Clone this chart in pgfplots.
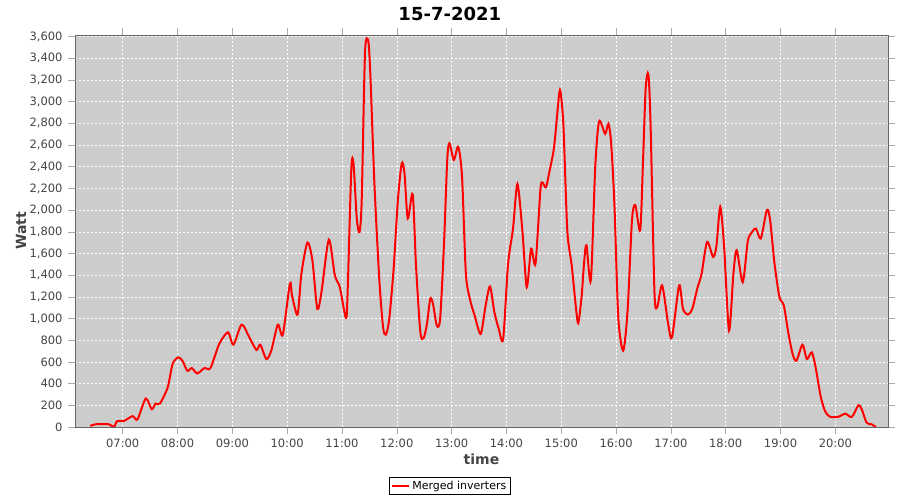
\documentclass[border=0pt]{standalone}
\usepackage{pgfplots}
\pgfplotsset{compat=1.18}
\usepackage{fontspec}
\setmainfont{DejaVu Sans}
\definecolor{plotbg}{HTML}{CCCCCC}
\definecolor{framec}{HTML}{666666}
\definecolor{axisc}{HTML}{AAAAAA}
\definecolor{labc}{HTML}{444444}
\begin{document}
\begin{tikzpicture}
\path[use as bounding box] (-75pt,-73pt) rectangle (825pt,427pt);
\begin{axis}[
  scale only axis,
  width=813pt, height=392pt,
  xmin=6.13, xmax=20.96,
  ymin=0, ymax=3615,
  axis background/.style={fill=plotbg},
  axis line style={framec, line width=0.8pt},
  xtick={7,8,...,20},
  xticklabels={07:00,08:00,09:00,10:00,11:00,12:00,13:00,14:00,15:00,16:00,17:00,18:00,19:00,20:00},
  ytick={0,200,...,3600},
  /pgf/number format/assume math mode=true,
  /pgf/number format/1000 sep={,},
  tick align=outside,
  major tick length=7pt,
  tick style={axisc, line width=0.6pt},
  grid=major,
  major grid style={white, dash pattern=on 2pt off 2pt, line width=0.5pt},
  ticklabel style={font=\fontsize{11.5}{13}\selectfont, text=labc},
  xticklabel style={yshift=-1pt},
  yticklabel style={xshift=-2pt},
  xlabel={time},
  ylabel={Watt},
  xlabel style={font=\fontsize{14}{16}\selectfont\bfseries, text=labc, at={(axis description cs:0.5,-0.0816)}, anchor=center},
  ylabel style={font=\fontsize{14}{16}\selectfont\bfseries, text=labc, at={(axis description cs:-0.0664,0.5)}, anchor=center},
  title={15-7-2021},
  title style={font=\fontsize{18}{20}\selectfont\bfseries, at={(axis description cs:0.461,1)}, anchor=center, yshift=15pt},
  legend style={at={(axis description cs:0.461,-0.1276)}, anchor=north, draw=black, line width=0.6pt, font=\fontsize{11}{13}\selectfont, inner sep=1.5pt, row sep=0pt},
  legend cell align=left,
  legend image post style={line width=2pt},
  clip=true,
]
\addplot[red, line width=2pt, smooth, tension=0.45] coordinates {
(6.41,9) (6.50,25) (6.75,25) (6.84,0) (6.90,55) (7.02,55) (7.18,100) (7.27,70)
(7.42,262) (7.53,164) (7.60,216) (7.68,216) (7.82,364) (7.91,580) (8.01,642)
(8.09,611) (8.18,518) (8.26,543) (8.36,494) (8.49,543) (8.60,543) (8.76,765)
(8.92,873) (9.02,759) (9.17,944) (9.31,827) (9.44,710) (9.51,759) (9.62,627)
(9.71,704) (9.83,944) (9.92,852) (10.05,1321) (10.09,1210) (10.19,1037)
(10.26,1414) (10.37,1701) (10.46,1537) (10.55,1090) (10.63,1259) (10.76,1728)
(10.87,1398) (10.96,1290) (11.07,1006) (11.10,1198) (11.17,2370) (11.21,2432)
(11.27,1923) (11.32,1799) (11.36,2093) (11.42,3451) (11.48,3559) (11.52,3219)
(11.59,2262) (11.68,1367) (11.75,920) (11.80,852) (11.86,988) (11.94,1444)
(12.02,2093) (12.09,2432) (12.14,2340) (12.20,1923) (12.29,2145) (12.35,1491)
(12.43,873) (12.49,821) (12.55,951) (12.61,1182) (12.66,1136) (12.73,935)
(12.79,997) (12.86,1676) (12.92,2463) (12.96,2617) (13.04,2463) (13.12,2586)
(13.19,2308) (13.26,1414) (13.34,1167) (13.42,1028) (13.53,858) (13.62,1120)
(13.70,1296) (13.78,1059) (13.86,904) (13.94,812) (14.03,1506) (14.12,1830)
(14.20,2241) (14.29,1815) (14.37,1290) (14.45,1645) (14.53,1506) (14.62,2191)
(14.66,2253) (14.72,2210) (14.79,2370) (14.87,2586) (14.96,3065) (14.99,3080)
(15.04,2772) (15.11,1815) (15.19,1491) (15.27,1090) (15.31,957) (15.37,1198)
(15.42,1537) (15.46,1676) (15.54,1352) (15.62,2401) (15.69,2818) (15.80,2704)
(15.86,2796) (15.91,2617) (15.97,2046) (16.04,1012) (16.13,704) (16.21,1074)
(16.29,1907) (16.35,2046) (16.44,1815) (16.49,2432) (16.54,3126) (16.59,3250)
(16.63,2772) (16.70,1244) (16.75,1105) (16.84,1306) (16.95,951) (17.02,827)
(17.15,1306) (17.22,1090) (17.31,1037) (17.39,1090) (17.48,1275) (17.56,1414)
(17.66,1707) (17.77,1568) (17.83,1667) (17.90,2031) (17.97,1667) (18.06,889)
(18.14,1414) (18.20,1630) (18.31,1336) (18.40,1707) (18.46,1784) (18.55,1830)
(18.64,1738) (18.75,2000) (18.81,1907) (18.89,1506) (18.98,1198) (19.06,1120)
(19.14,873) (19.22,673) (19.29,611) (19.40,759) (19.48,627) (19.57,688)
(19.64,549) (19.73,287) (19.81,148) (19.90,95) (20.06,95) (20.18,123)
(20.30,93) (20.42,201) (20.48,164) (20.57,40) (20.66,25) (20.74,0)
};
\addlegendentry{Merged inverters}
\end{axis}
\end{tikzpicture}
\end{document}
